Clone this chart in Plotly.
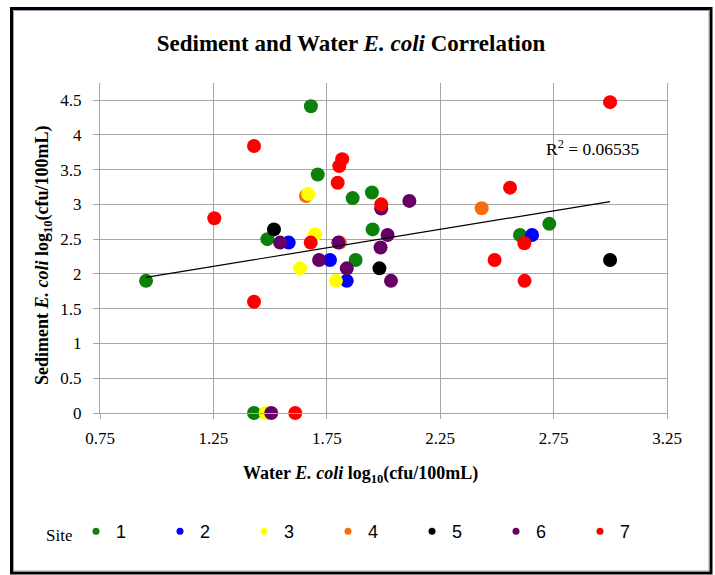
import plotly.graph_objects as go

# ---------------- data ----------------
sites = ["1", "2", "3", "4", "5", "6", "7"]
site_colors = ["#0b800b", "#0000ff", "#ffff00", "#f76b0f", "#000000", "#660066", "#ff0000"]

water_1 = [0.953, 1.680, 1.710, 1.488, 1.864, 1.949, 1.952, 1.877, 2.602, 2.731, 1.429]
sed_1 = [1.90, 4.41, 3.43, 2.50, 3.09, 3.17, 2.64, 2.20, 2.56, 2.72, 0.00]

water_2 = [1.582, 1.764, 1.838, 2.655]
sed_2 = [2.45, 2.20, 1.90, 2.56]

water_3 = [1.668, 1.698, 1.632, 1.790, 1.480]
sed_3 = [3.15, 2.57, 2.08, 1.90, 0.00]

water_4 = [1.658, 1.808, 2.433]
sed_4 = [3.12, 2.45, 2.945]

water_5 = [1.517, 1.982, 2.999]
sed_5 = [2.64, 2.08, 2.20]

water_6 = [1.544, 1.716, 1.838, 1.801, 1.990, 2.114, 2.018, 1.987, 2.033, 1.505]
sed_6 = [2.45, 2.20, 2.08, 2.45, 2.94, 3.05, 2.56, 2.38, 1.90, 0.00]

water_7 = [1.254, 1.429, 1.429, 1.679, 1.818, 1.805, 1.798, 1.990, 2.558, 2.490, 2.621, 2.622, 2.999, 1.611]
sed_7 = [2.80, 3.84, 1.60, 2.45, 3.65, 3.55, 3.31, 3.00, 3.24, 2.20, 2.44, 1.90, 4.47, 0.00]

# linear trendline
trend_slope = 0.5325
trend_intercept = 1.4425
r_squared = "0.06535"

x_ticks = [0.75, 1.25, 1.75, 2.25, 2.75, 3.25]
y_ticks = [0, 0.5, 1, 1.5, 2, 2.5, 3, 3.5, 4, 4.5]

water = [water_1, water_2, water_3, water_4, water_5, water_6, water_7]
sed = [sed_1, sed_2, sed_3, sed_4, sed_5, sed_6, sed_7]

# ---------------- figure ----------------
W, H = 715, 575
ML, MR, MT, MB = 100, 48, 83, 162
PW, PH = W - ML - MR, H - MT - MB


def px_x(p):
    return (p - ML) / PW


def px_y(p):
    return (H - MB - p) / PH


fig = go.Figure()

draw_order = [3, 0, 1, 2, 4, 5, 6]
for i in draw_order:
    fig.add_trace(go.Scatter(
        x=water[i], y=sed[i], mode="markers",
        marker=dict(size=14, color=site_colors[i], line=dict(width=0)),
        cliponaxis=False, showlegend=False, name=sites[i],
    ))

all_x = [v for s in water for v in s]
tx = [min(all_x), max(all_x)]
ty = [trend_intercept + trend_slope * v for v in tx]
fig.add_trace(go.Scatter(x=tx, y=ty, mode="lines", line=dict(color="black", width=1.2),
                         showlegend=False, hoverinfo="skip"))

# legend entries (small markers)
for i, s in enumerate(sites):
    fig.add_trace(go.Scatter(x=[None], y=[None], mode="markers", name=s,
                             marker=dict(size=7, color=site_colors[i])))

grid = "#a6a6a6"
serif = "Liberation Serif"

fig.update_layout(
    width=W, height=H,
    margin=dict(l=ML, r=MR, t=MT, b=MB),
    paper_bgcolor="white", plot_bgcolor="white",
    title=dict(text="Sediment and Water <i>E. coli</i> Correlation",
               font=dict(family=serif, size=23, color="black", weight="bold"),
               xref="container", yref="container", x=351 / W, y=1 - 43 / H,
               xanchor="center", yanchor="middle"),
    xaxis=dict(range=[0.75, 3.25], tickvals=x_ticks, ticktext=[f"{v:.2f}" for v in x_ticks],
               showgrid=True, gridcolor=grid, gridwidth=1,
               showline=True, linecolor=grid, linewidth=1,
               ticks="outside", ticklen=5, tickcolor=grid, zeroline=False,
               tickfont=dict(family=serif, size=17, color="black"), ticklabelstandoff=5),
    yaxis=dict(range=[0, 4.745], tickvals=y_ticks,
               showgrid=True, gridcolor=grid, gridwidth=1,
               showline=True, linecolor=grid, linewidth=1, mirror=True,
               ticks="outside", ticklen=6, tickcolor=grid, zeroline=False,
               tickfont=dict(family=serif, size=17, color="black"), ticklabelstandoff=8),
    legend=dict(orientation="h", x=px_x(76), y=px_y(513), xanchor="left", yanchor="top",
                font=dict(family="Liberation Sans", size=18, color="black"),
                entrywidth=39, entrywidthmode="pixels", bgcolor="rgba(0,0,0,0)"),
    showlegend=True,
    annotations=[
        dict(text="Site", xref="paper", yref="paper",
             x=px_x(44), y=px_y(535), xanchor="left", yanchor="middle", showarrow=False,
             font=dict(family=serif, size=17, color="black")),
        dict(text="Water <i>E. coli</i> log<sub>10</sub>(cfu/100mL)", xref="paper", yref="paper",
             x=px_x(360), y=px_y(474), xanchor="center", yanchor="middle", showarrow=False,
             font=dict(family=serif, size=18, color="black", weight="bold")),
        dict(text="Sediment <i>E. coli</i> log<sub>10</sub>(cfu/100mL)", xref="paper", yref="paper",
             x=px_x(43), y=px_y(255), xanchor="center", yanchor="middle", showarrow=False,
             textangle=-90,
             font=dict(family=serif, size=18, color="black", weight="bold")),
        dict(text=f"R<sup>2</sup> = {r_squared}", xref="x", yref="y",
             x=2.708, y=3.81, xanchor="left", yanchor="middle", showarrow=False,
             font=dict(family=serif, size=17.5, color="black")),
    ],
    shapes=[
        dict(type="rect", xref="paper", yref="paper",
             x0=px_x(11.5), x1=px_x(711), y0=px_y(573), y1=px_y(8.5),
             line=dict(color="black", width=3), fillcolor="rgba(0,0,0,0)", layer="above"),
        dict(type="rect", xref="paper", yref="paper",
             x0=px_x(13.5), x1=px_x(709), y0=px_y(571), y1=px_y(10.5),
             line=dict(color="#a59bb8", width=1), fillcolor="rgba(0,0,0,0)", layer="above"),
    ],
)

fig.write_html("out.html")
